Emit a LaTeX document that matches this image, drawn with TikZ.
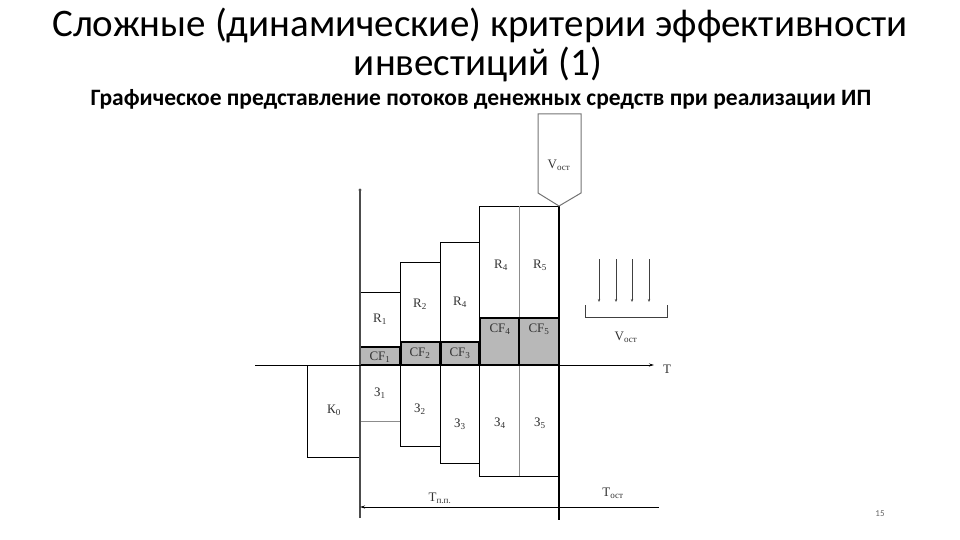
\documentclass[tikz,border=0pt]{standalone}
\usepackage{fontspec}
\setmainfont{Carlito}
\newfontfamily\serifl{Liberation Serif}
\usetikzlibrary{arrows.meta}
\begin{document}
\begin{tikzpicture}[x=1pt,y=-1pt,
  thin line/.style={line width=0.8pt,black},
  grey line/.style={line width=0.6pt,black!45},
  cfbox/.style={draw=black,line width=2.4pt,fill=black!28},
  lbl/.style={font=\serifl\fontsize{13}{14}\selectfont,text=black!80,inner sep=0pt},
  ttl/.style={font=\fontsize{39}{40}\selectfont,inner sep=0pt},
]
\useasboundingbox (0,0) rectangle (960,540);
% titles
\node[ttl] (t1) at (480,25) {Сложные (динамические) критерии эффективности};
\node[ttl] (t2) at (478,64) {инвестиций (1)};
\node[font=\bfseries\fontsize{23.5}{24}\selectfont,inner sep=0pt] (t3) at (481,99) {Графическое представление потоков денежных средств при реализации ИП};
% R boxes (upper)
\draw[thin line] (360,365) -- (360,292) -- (400,292) -- (400,365);
\draw[thin line] (400,292) -- (400,262) -- (440,262) -- (440,365);
\draw[thin line] (440,262) -- (440,242) -- (479,242) -- (479,365);
\draw[thin line] (479,242) -- (479,206) -- (559,206);
\draw[grey line] (519,206) -- (519,317);
% lower boxes
\draw[thin line] (307,365) -- (307,457) -- (360,457);
\draw[grey line] (360,421) -- (400,421);
\draw[thin line] (400,365) -- (400,446) -- (440,446) -- (440,365);
\draw[thin line] (440,446) -- (440,463) -- (479,463) -- (479,365);
\draw[thin line] (479,463) -- (479,476) -- (559,476);
\draw[grey line] (519,365) -- (519,476);
% CF boxes
\draw[cfbox] (360,347) rectangle (400,365);
\draw[cfbox] (401,342) rectangle (440,365);
\draw[cfbox] (441,342) rectangle (479,365);
\draw[cfbox] (480,318) rectangle (519,365);
\draw[cfbox] (519,318) rectangle (559,365);
% axes
\coordinate (ytop) at (360,190);
\coordinate (ybot) at (360,518);
\draw[line width=1.1pt,black!70] (ybot) -- (ytop);
\fill[black!70] (ytop) circle (1.6pt);
\coordinate (xl) at (255,365);
\coordinate (xr) at (654,365);
\draw[line width=0.8pt,-{Stealth[length=5pt,width=3pt]}] (xl) -- (xr);
\node[lbl] (tT) at (667,369) {T};
% thick vertical at end of project
\coordinate (vtop) at (559,206);
\coordinate (vbot) at (559,520);
\draw[line width=2.2pt] (vtop) -- (vbot);
% V_ost pentagon arrow
\draw[line width=1pt,black!55] (538,114) -- (538,193) -- (vtop) -- (581,193) -- (581,114) -- cycle;
\node[lbl] (vo) at (559,165) {V\textsubscript{ост}};
% bottom dimension lines
\coordinate (tl) at (360,507);
\coordinate (tr) at (659,507);
\draw[line width=0.8pt,{Stealth[length=5pt,width=3pt]}-] (tl) -- (559,507);
\draw[line width=0.8pt] (559,507) -- (tr);
\draw[line width=0.8pt] (555,507) -- (563,507);
\node[lbl] (tpp) at (440,498) {T\textsubscript{п.п.}};
\node[lbl] (tost) at (613,493) {T\textsubscript{ост}};
% right side arrows
\foreach \x/\n in {599/a,616/b,632/c,649/d}{
  \coordinate (s\n) at (\x,259);
  \coordinate (e\n) at (\x,302);
  \draw[line width=0.9pt,black!75,-{Stealth[length=3pt,width=2.4pt]}] (s\n) -- (e\n);
}
\draw[line width=0.9pt,black!75] (585,305) -- (585,317) -- (667,317) -- (667,305);
\node[lbl] (vo2) at (626,337) {V\textsubscript{ост}};
% labels
\node[lbl] (r1) at (380,319) {R\textsubscript{1}};
\node[lbl] (r2) at (420,304) {R\textsubscript{2}};
\node[lbl] (r3) at (460,302) {R\textsubscript{4}};
\node[lbl] (r4) at (501,265) {R\textsubscript{4}};
\node[lbl] (r5) at (540,265) {R\textsubscript{5}};
\node[lbl] (cf1) at (380,357) {CF\textsubscript{1}};
\node[lbl] (cf2) at (420,353) {CF\textsubscript{2}};
\node[lbl] (cf3) at (460,353) {CF\textsubscript{3}};
\node[lbl] (cf4) at (500,329) {CF\textsubscript{4}};
\node[lbl] (cf5) at (539,329) {CF\textsubscript{5}};
\node[lbl] (k0) at (334,410) {К\textsubscript{0}};
\node[lbl] (z1) at (380,393) {З\textsubscript{1}};
\node[lbl] (z2) at (420,409) {З\textsubscript{2}};
\node[lbl] (z3) at (460,424) {З\textsubscript{3}};
\node[lbl] (z4) at (500,423) {З\textsubscript{4}};
\node[lbl] (z5) at (540,423) {З\textsubscript{5}};
\node[font=\fontsize{9}{10}\selectfont,text=black!60,inner sep=0pt] (pg) at (880,514) {15};
\end{tikzpicture}
\end{document}
